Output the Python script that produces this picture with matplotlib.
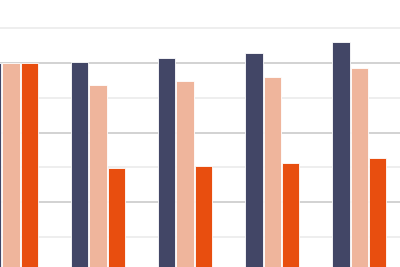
import numpy as np
import matplotlib
matplotlib.use('Agg')
import matplotlib.pyplot as plt

categories = ['G1', 'G2', 'G3', 'G4', 'G5']
series_a = [6.0, 6.01, 6.13, 6.28, 6.59]
series_b = [6.0, 5.36, 5.48, 5.59, 5.86]
series_c = [6.0, 2.97, 3.05, 3.12, 3.27]

colors = ['#424666', '#EFB59C', '#E84E0F']

fig = plt.figure(figsize=(4, 2.67), dpi=100)
ax = fig.add_axes([0, 0, 1, 1])

x = np.arange(len(categories))
w = 0.2
for k, (vals, col) in enumerate(zip([series_a, series_b, series_c], colors)):
    ax.bar(x + (k - 1) * 0.211, vals, width=w, color=col,
           edgecolor='white', linewidth=0.6, zorder=3)

ax.set_yticks([2, 4, 6])
ax.set_yticks([1, 3, 5, 7], minor=True)
ax.grid(axis='y', which='major', color='#CBCBCB', linewidth=1.2, zorder=0)
ax.grid(axis='y', which='minor', color='#EBEBEB', linewidth=1.2, zorder=0)
ax.tick_params(which='both', length=0, labelleft=False, labelbottom=False)
ax.set_xticks(x)
ax.set_xticklabels(categories)
for s in ax.spines.values():
    s.set_visible(False)

ax.set_xlim(-0.125, 4.467)
ax.set_ylim(0.146, 7.797)

fig.savefig('out.png', dpi=100)
